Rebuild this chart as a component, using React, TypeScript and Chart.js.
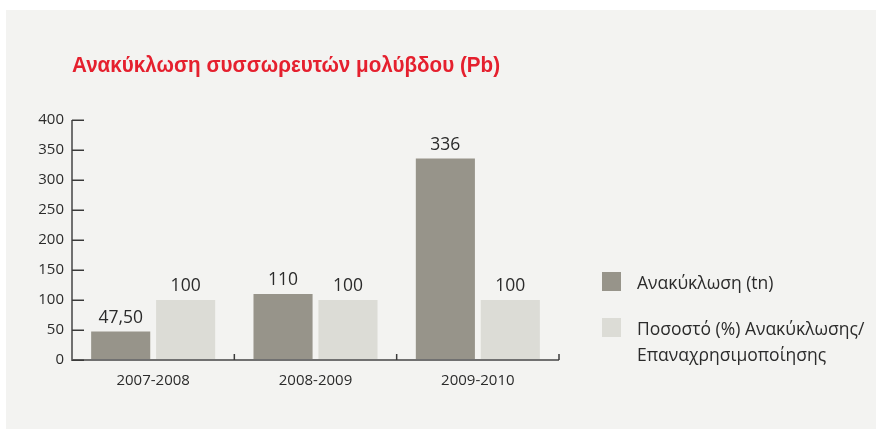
import React, { useEffect, useRef } from "react";
import { Chart, registerables } from "chart.js";

Chart.register(...registerables);

const titleText = "Ανακύκλωση συσσωρευτών μολύβδου (Pb)";
const categories = ["2007-2008", "2008-2009", "2009-2010"];
const recycled = [47.5, 110, 336];
const recycledLabels = ["47,50", "110", "336"];
const percentage = [100, 100, 100];
const percentageLabels = ["100", "100", "100"];
const seriesNames = ["Ανακύκλωση (tn)", "Ποσοστό (%) Ανακύκλωσης/ Επαναχρησιμοποίησης"];
const legendLines = [["Ανακύκλωση (tn)"], ["Ποσοστό (%) Ανακύκλωσης/", "Επαναχρησιμοποίησης"]];
const yTicks = [0, 50, 100, 150, 200, 250, 300, 350, 400];

const DARK = "#97948a";
const LIGHT = "#dcdcd6";
const PANEL = "#f3f3f1";
const FONT = "'Open Sans', 'Noto Sans', sans-serif";

const decorPlugin = {
  id: "decor",
  beforeDraw(chart: any) {
    const { ctx, width, height } = chart;
    ctx.save();
    ctx.fillStyle = "#ffffff";
    ctx.fillRect(0, 0, width, height);
    ctx.fillStyle = PANEL;
    ctx.fillRect(6, 10, width - 6, height - 10);
    ctx.fillStyle = "#e5202e";
    ctx.font = "bold 22px 'Liberation Sans', 'DejaVu Sans', sans-serif";
    ctx.textBaseline = "alphabetic";
    ctx.textAlign = "left";
    const w = ctx.measureText(titleText).width;
    const targetW = 428;
    ctx.translate(72, 72);
    ctx.scale(targetW / w, 1);
    ctx.fillText(titleText, 0, 0);
    ctx.restore();
  },
  afterDatasetsDraw(chart: any) {
    const { ctx, chartArea } = chart;
    const x = chart.scales.x;
    const y = chart.scales.y;
    ctx.save();
    ctx.strokeStyle = "#707070";
    ctx.lineWidth = 2;
    ctx.beginPath();
    ctx.moveTo(chartArea.left, chartArea.top);
    ctx.lineTo(chartArea.left, chartArea.bottom);
    ctx.lineTo(chartArea.right, chartArea.bottom);
    ctx.stroke();
    ctx.strokeStyle = "#3a3a3a";
    ctx.lineWidth = 1.5;
    yTicks.forEach((v) => {
      const py = Math.round(y.getPixelForValue(v)) + 0.25;
      ctx.beginPath();
      ctx.moveTo(chartArea.left, py);
      ctx.lineTo(chartArea.left + 12, py);
      ctx.stroke();
    });
    for (let i = 1; i <= categories.length; i++) {
      const px = i < categories.length
        ? (x.getPixelForValue(i - 1) + x.getPixelForValue(i)) / 2
        : chartArea.right;
      ctx.beginPath();
      ctx.moveTo(px, chartArea.bottom);
      ctx.lineTo(px, chartArea.bottom - 6);
      ctx.stroke();
    }
    const labelSets = [recycledLabels, percentageLabels];
    ctx.fillStyle = "#2b2b2b";
    ctx.font = `17.5px ${FONT}`;
    ctx.textAlign = "center";
    ctx.textBaseline = "bottom";
    chart.data.datasets.forEach((ds: any, di: number) => {
      const meta = chart.getDatasetMeta(di);
      meta.data.forEach((el: any, i: number) => {
        ctx.fillText(labelSets[di][i], el.x, el.y - 5);
      });
    });
    const colors = [DARK, LIGHT];
    const boxes = [272, 318];
    ctx.font = `17.5px ${FONT}`;
    ctx.textAlign = "left";
    ctx.textBaseline = "middle";
    legendLines.forEach((lines, li) => {
      ctx.fillStyle = colors[li];
      ctx.fillRect(602, boxes[li], 19, 19);
      ctx.fillStyle = "#2b2b2b";
      lines.forEach((line, k) => {
        ctx.fillText(line, 637, boxes[li] + 12 + k * 26);
      });
    });
    ctx.restore();
  },
};

export default function App() {
  const ref = useRef<HTMLCanvasElement | null>(null);
  useEffect(() => {
    if (!ref.current) return;
    const chart = new Chart(ref.current, {
      type: "bar",
      data: {
        labels: categories,
        datasets: [
          { label: seriesNames[0], data: recycled, backgroundColor: DARK, categoryPercentage: 0.8, barPercentage: 0.91 },
          { label: seriesNames[1], data: percentage, backgroundColor: LIGHT, categoryPercentage: 0.8, barPercentage: 0.91 },
        ],
      },
      options: {
        animation: false,
        responsive: true,
        maintainAspectRatio: false,
        layout: { padding: { left: 0, right: 317, top: 120, bottom: 0 } },
        plugins: { legend: { display: false }, title: { display: false }, tooltip: { enabled: false } },
        scales: {
          x: {
            grid: { display: false, drawTicks: false },
            border: { display: false },
            ticks: { padding: 12, color: "#2b2b2b", font: { family: FONT, size: 15 } },
            afterFit: (s: any) => { s.height = 69; },
          },
          y: {
            min: 0,
            max: 400,
            grid: { display: false, drawTicks: false },
            border: { display: false },
            ticks: { stepSize: 50, padding: 8, color: "#2b2b2b", font: { family: FONT, size: 15 } },
            afterFit: (s: any) => { s.width = 72; },
          },
        },
      },
      plugins: [decorPlugin],
    });
    return () => chart.destroy();
  }, []);
  return (
    <div style={{ position: "fixed", left: 0, top: 0, width: 876, height: 429 }}>
      <canvas ref={ref} />
    </div>
  );
}
